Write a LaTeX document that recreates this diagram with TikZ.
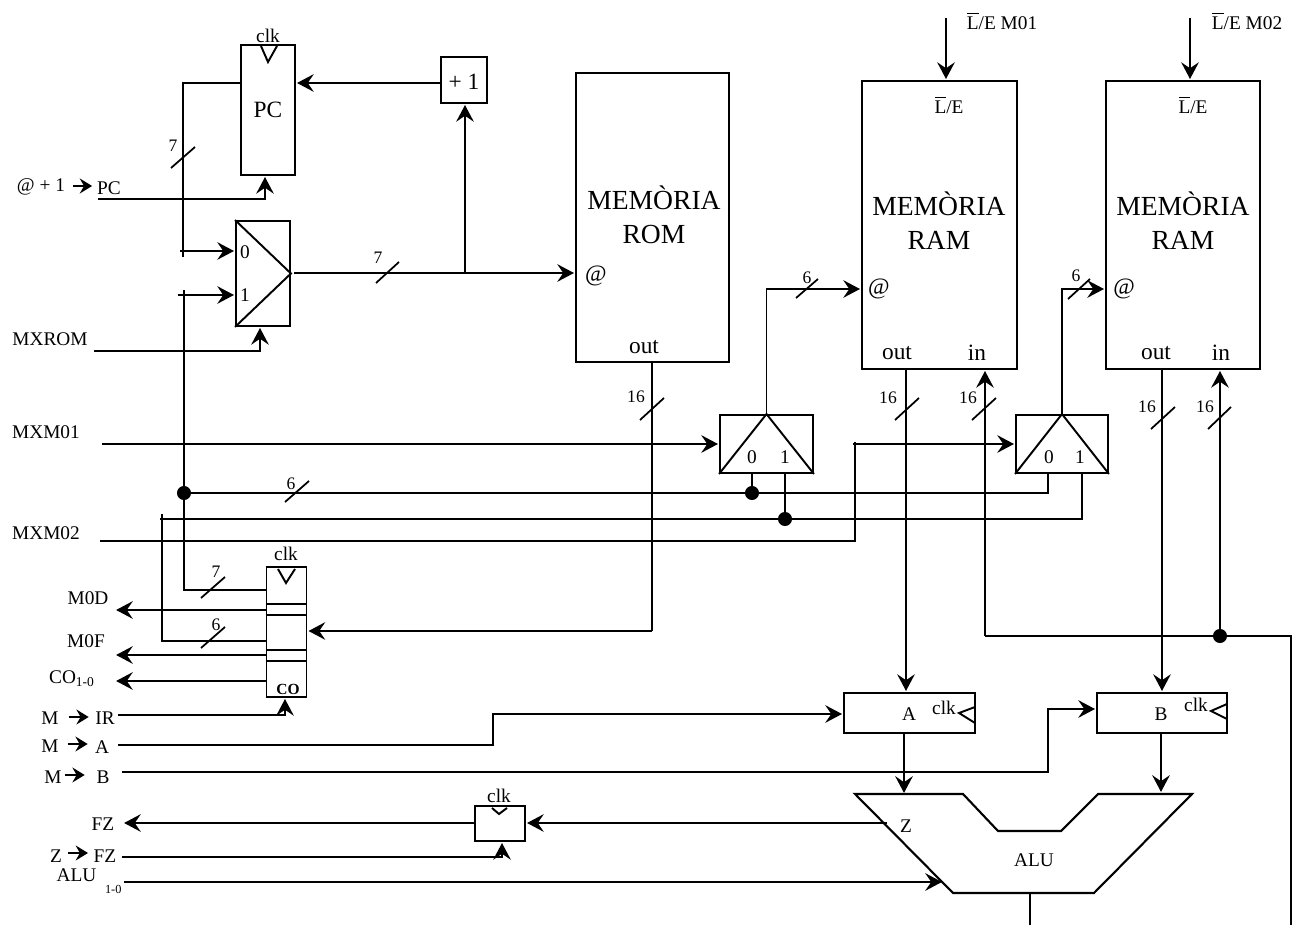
\documentclass[tikz,border=0pt]{standalone}
\usepackage{fontspec}
\usepackage{amsmath}
\setmainfont{Liberation Serif}
\usetikzlibrary{arrows.meta,calc}
\tikzset{
  sizea/.style={font=\fontsize{11}{13}\selectfont},
  sizeb/.style={font=\fontsize{13.3}{15}\selectfont},
  sizec/.style={font=\fontsize{15.7}{18}\selectfont},
  txt/.style={sizea,inner sep=1pt},
  buswidth/.style={font=\fontsize{10}{12}\selectfont,inner sep=0pt},
  box/.style={draw,line width=1.1pt,inner sep=0pt},
  wire/.style={line width=1.1pt},
  arr/.style={wire,-{Stealth[length=9.5pt,width=10pt,inset=3.4pt]},shorten >=0.6pt},
  minarr/.style={wire,-{Stealth[length=7pt,width=8.5pt,inset=2.4pt]}},
  slash/.style={line width=1pt},
  dot/.style={circle,fill=black,inner sep=0pt,minimum size=8pt}
}
\begin{document}
\begin{tikzpicture}[x=0.02cm,y=-0.02cm]
\useasboundingbox (0,0) rectangle (1299,925);

% blocks
\node[box,sizeb,minimum width=1.08cm,minimum height=2.6cm] (pc) at (268,110) {PC};
\node[box,minimum width=0.92cm,minimum height=0.92cm] (plusone) at (464,80) {};
\node[box,minimum width=1.08cm,minimum height=2.1cm] (muxrom) at (263,273.5) {};
\node[box,minimum width=3.06cm,minimum height=5.78cm] (rom) at (652.5,217.5) {};
\node[box,minimum width=3.1cm,minimum height=5.76cm] (ramone) at (939.5,225) {};
\node[box,minimum width=3.08cm,minimum height=5.76cm] (ramtwo) at (1183,225) {};
\node[box,minimum width=1.86cm,minimum height=1.16cm] (muxone) at (766.5,444) {};
\node[box,minimum width=1.84cm,minimum height=1.16cm] (muxtwo) at (1062,444) {};
\node[box,minimum width=0.8cm,minimum height=2.6cm] (ir) at (286.5,632) {};
\node[box,sizea,minimum width=2.62cm,minimum height=0.8cm] (rega) at (909.5,713) {};
\node[box,sizea,minimum width=2.6cm,minimum height=0.8cm] (regb) at (1162,713) {};
\node[box,minimum width=1cm,minimum height=0.7cm] (regz) at (500,823.5) {};

% inside the blocks
\draw[wire] (muxrom.north west) -- (muxrom.east) -- (muxrom.south west);
\draw[wire] (muxone.south west) -- (muxone.north) -- (muxone.south east);
\draw[wire] (muxtwo.south west) -- (muxtwo.north) -- (muxtwo.south east);
\draw[wire] (261,46) -- (268,62) -- (277,46);
\draw[wire] (278,569) -- (286,583) -- (295,569);
\draw[wire] (492,808) -- (499,814) -- (507,808);
\draw[wire] (975,707) -- (959,713) -- (975,723);
\draw[wire] (1227,704) -- (1211,711) -- (1227,719);
\draw[wire] (ir.west |- 0,604) -- (ir.east |- 0,604);
\draw[wire] (ir.west |- 0,615) -- (ir.east |- 0,615);
\draw[wire] (ir.west |- 0,650) -- (ir.east |- 0,650);
\draw[wire] (ir.west |- 0,661) -- (ir.east |- 0,661);
\draw[line width=1.2pt] (855,794) -- (963,794) -- (998,831) -- (1061,831) -- (1098,794) -- (1192,794) -- (1094,893) -- (953,893) -- cycle;

% texts in the blocks
\node[sizeb,inner sep=0pt] (plusonetxt) at (464,82) {+ 1};
\node[txt] (clkpc) at (268,36) {clk};
\node[txt] (clkir) at (286,554) {clk};
\node[txt] (clkz) at (499,796) {clk};
\node[txt] (clka) at (944,708) {clk};
\node[txt] (clkb) at (1196,705) {clk};
\node[txt] (zero) at (245,252) {0};
\node[txt] (one) at (245,295) {1};
\node[txt] (zeroa) at (752,457) {0};
\node[txt] (onea) at (785,457) {1};
\node[txt] (zerob) at (1049,457) {0};
\node[txt] (oneb) at (1080,457) {1};
\node[sizec,align=center,inner sep=0pt] (romtxt) at (654,214.5) {MEMÒRIA\\[1.3pt]ROM};
\node[sizec,align=center,inner sep=0pt] (ramonetxt) at (939,220.5) {MEMÒRIA\\[1.3pt]RAM};
\node[sizec,align=center,inner sep=0pt] (ramtwotxt) at (1183,220.5) {MEMÒRIA\\[1.3pt]RAM};
\node[sizeb,inner sep=0pt] (romat) at (596,276) {@};
\node[sizeb,inner sep=0pt] (ramoneat) at (879,289) {@};
\node[sizeb,inner sep=0pt] (ramtwoat) at (1124,289) {@};
\node[sizeb,inner sep=0pt] (romout) at (644,347) {out};
\node[sizeb,inner sep=0pt] (ramoneout) at (897,353) {out};
\node[sizeb,inner sep=0pt] (ramonein) at (977,353) {in};
\node[sizeb,inner sep=0pt] (ramtwoout) at (1156,353) {out};
\node[sizeb,inner sep=0pt] (ramtwoin) at (1221,353) {in};
\node[txt] (leone) at (949,105) {$\overline{\mbox{L}}$/E};
\node[txt] (letwo) at (1193,105) {$\overline{\mbox{L}}$/E};
\node[txt] (atxt) at (909,714) {A};
\node[txt] (btxt) at (1161,714) {B};
\node[txt] (alutxt) at (1034,860) {ALU};
\node[txt] (ztxt) at (906,826) {Z};
\node[font=\bfseries\fontsize{8.8}{10}\selectfont,inner sep=0pt] (cotxt) at (288,689) {CO};

% texts outside
\node[txt] (lemone) at (1002,21) {$\overline{\mbox{L}}$/E M01};
\node[txt] (lemtwo) at (1247,21) {$\overline{\mbox{L}}$/E M02};
\node[txt] (atpc) at (41,187) {@ + 1};
\node[txt] (pcl) at (109,188) {PC};
\node[txt] (mxrom) at (50,339) {MXROM};
\node[txt] (mxmone) at (46,432) {MXM01};
\node[txt] (mxmtwo) at (46,533) {MXM02};
\node[txt] (modl) at (88,598) {M0D};
\node[txt] (mofl) at (86,641) {M0F};
\node[txt] (col) at (72,679) {CO\textsubscript{1-0}};
\node[txt] (mir) at (50,718) {M};
\node[txt] (irl) at (105,718) {IR};
\node[txt] (ma) at (50,746) {M};
\node[txt] (al) at (102,747) {A};
\node[txt] (mb) at (53,777) {M};
\node[txt] (bl) at (103,777) {B};
\node[txt] (fzl) at (103,824) {FZ};
\node[txt] (zl) at (56,856) {Z};
\node[txt] (fzz) at (105,856) {FZ};
\node[txt] (alul) at (89,881) {ALU\hspace{5pt}\raisebox{-1.3ex}{\fontsize{7}{8}\selectfont 1-0}};

% little arrows of the labels
\draw[minarr] (atpc.east) ++(6,-1) -- ++(19,0);
\draw[minarr] (mir.east) ++(8,-1) -- ++(20,0);
\draw[minarr] (ma.east) ++(7,-2) -- ++(20,0);
\draw[minarr] (mb.east) ++(1,-2) -- ++(20,0);
\draw[minarr] (zl.east) ++(4,-3) -- ++(20,0);

% wire ends and corners
\coordinate (topone) at (946,18);
\coordinate (toptwo) at (1190,18);
\coordinate (fbk) at (183,83);
\coordinate (fbkend) at (183,257);
\coordinate (fbkin) at (180,251);
\coordinate (mxsel) at (98,199);
\coordinate (pcen) at (265,199);
\coordinate (bus) at (184,290);
\coordinate (busin) at (178,295);
\coordinate (romsel) at (94,351);
\coordinate (romcrn) at (260,351);
\coordinate (muxout) at (294,273);
\coordinate (addr) at (465,273);
\coordinate (busdot) at (184,493);
\coordinate (bus7) at (184,590);
\coordinate (zerotwo) at (1048,493);
\coordinate (low) at (160,519);
\coordinate (lowtop) at (162,514);
\coordinate (lowcrn) at (162,641);
\coordinate (onetwo) at (1082,519);
\coordinate (selone) at (102,444);
\coordinate (seltwo) at (100,541);
\coordinate (seltwoc) at (855,541);
\coordinate (seltwot) at (855,442);
\coordinate (seltwoi) at (853,444);
\coordinate (romdown) at (652,631);
\coordinate (inbus) at (985,636);
\coordinate (outdot) at (1220,636);
\coordinate (aluin) at (1291,636);
\coordinate (alubot) at (1291,925);
\coordinate (aluout) at (1030,925);
\coordinate (modo) at (115,610);
\coordinate (mofo) at (115,655);
\coordinate (coo) at (115,681);
\coordinate (fzo) at (123,823);

% top of the picture
\draw[arr] (topone) -- (topone |- ramone.north);
\draw[arr] (toptwo) -- (toptwo |- ramtwo.north);
\draw[arr] (plusone.west |- fbk) -- (pc.east |- fbk);
\draw[wire] (pc.west |- fbk) -- (fbk) -- (fbkend);
\draw[arr] (fbkin) -- (muxrom.west |- fbkin);
\draw[arr] (mxsel) -- (pcen) -- (pc.south -| pcen);
\draw[slash] (171,168) -- (195,147);
\node[buswidth] (wpc) at (173,146) {7};

% rom and its mux
\draw[wire] (bus) -- (busdot) -- (bus7) -- (ir.west |- bus7);
\draw[arr] (busin) -- (muxrom.west |- busin);
\draw[arr] (romsel) -- (romcrn) -- (muxrom.south -| romcrn);
\draw[arr] (muxout) -- (rom.west |- addr);
\draw[arr] (addr) -- (plusone.south -| addr);
\draw[slash] (376,283) -- (399,262);
\node[buswidth] (wrom) at (378,258) {7};
\draw[wire] (rom.south -| romdown) -- (romdown);
\draw[arr] (romdown) -- (ir.east |- romdown);
\draw[slash] (640,420) -- (664,398);
\node[buswidth] (wromout) at (636,397) {16};

% muxes of the rams
\draw[arr] (selone) -- (muxone.west |- selone);
\draw[arr] (muxone.north) |- (ramone.west |- ramoneat);
\draw[slash] (796,298) -- (818,279);
\node[buswidth] (wone) at (807,278) {6};
\draw[arr] (muxtwo.north) |- (ramtwo.west |- ramtwoat);
\draw[slash] (1068,299) -- (1090,279);
\node[buswidth] (wtwo) at (1076,276) {6};
\node[dot] (da) at (busdot) {};
\node[dot] (db) at (zeroa |- busdot) {};
\node[dot] (dc) at (onea |- low) {};
\draw[wire] (da) -- (zerotwo) -- (zerotwo |- muxtwo.south);
\draw[wire] (db) -- (db |- muxone.south);
\draw[wire] (low) -- (onetwo) -- (onetwo |- muxtwo.south);
\draw[wire] (dc) -- (dc |- muxone.south);
\draw[slash] (285,502) -- (309,481);
\node[buswidth] (wbus) at (291,484) {6};
\draw[wire] (lowtop) -- (lowcrn) -- (ir.west |- lowcrn);
\draw[slash] (201,598) -- (225,577);
\node[buswidth] (wirb) at (216,572) {7};
\draw[slash] (201,648) -- (225,627);
\node[buswidth] (wirc) at (216,625) {6};
\draw[wire] (seltwo) -- (seltwoc) -- (seltwot);
\draw[arr] (seltwoi) -- (muxtwo.west |- seltwoi);

% ir outputs
\draw[arr] (ir.west |- modo) -- (modo);
\draw[arr] (ir.west |- mofo) -- (mofo);
\draw[arr] (ir.west |- coo) -- (coo);
\coordinate (irin) at (118,715);
\coordinate (ircrn) at (285,715);
\draw[arr] (irin) -- (ircrn) -- (ircrn |- ir.south);

% registers a, b
\coordinate (ain) at (118,745);
\coordinate (acrn) at (493,745);
\coordinate (atop) at (493,714);
\coordinate (bin) at (122,772);
\coordinate (bcrn) at (1048,772);
\coordinate (btop) at (1048,709);
\draw[arr] (ain) -- (acrn) -- (atop) -- (rega.west |- atop);
\draw[arr] (bin) -- (bcrn) -- (btop) -- (regb.west |- btop);

% rams to the registers
\coordinate (outone) at (906,369);
\coordinate (outtwo) at (1162,369);
\draw[arr] (outone) -- (outone |- rega.north);
\draw[arr] (outtwo) -- (outtwo |- regb.north);
\draw[slash] (895,420) -- (919,398);
\node[buswidth] (wo) at (888,398) {16};
\draw[slash] (1151,429) -- (1175,407);
\node[buswidth] (wp) at (1147,407) {16};
\draw[arr] (inbus) -- (inbus |- ramone.south);
\draw[arr] (outdot) -- (outdot |- ramtwo.south);
\draw[slash] (972,420) -- (996,398);
\node[buswidth] (wq) at (968,398) {16};
\draw[slash] (1208,429) -- (1231,407);
\node[buswidth] (wr) at (1205,407) {16};
\node[dot] (dd) at (outdot) {};
\draw[wire] (inbus) -- (aluin) -- (alubot);

% alu
\coordinate (ainalu) at (904,794);
\coordinate (binalu) at (1161,793);
\draw[arr] (rega.south -| ainalu) -- (ainalu);
\draw[arr] (regb.south -| binalu) -- (binalu);
\coordinate (zout) at (887,823);
\coordinate (aluctl) at (124,882);
\coordinate (aluctli) at (943,882);
\coordinate (aluo) at (1030,893);
\draw[arr] (zout) -- (regz.east |- zout);
\draw[arr] (regz.west |- zout) -- (fzo);
\coordinate (zin) at (122,857);
\coordinate (zcrn) at (502,857);
\draw[arr] (zin) -- (zcrn) -- (zcrn |- regz.south);
\draw[arr] (aluctl) -- (aluctli);
\draw[wire] (aluo) -- (aluout);
\end{tikzpicture}
\end{document}
